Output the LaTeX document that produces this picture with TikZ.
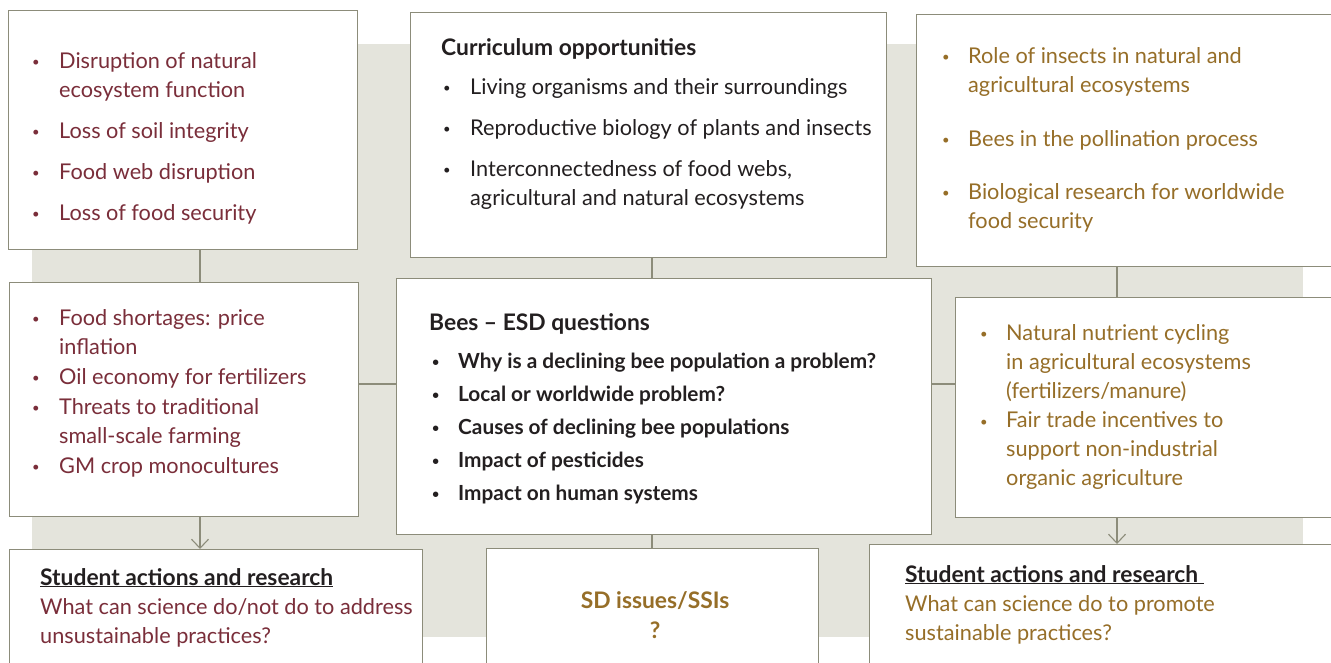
\documentclass[tikz,border=0pt]{standalone}
\usepackage{fontspec,graphicx,array}
\setmainfont{Lato}
\usetikzlibrary{arrows.meta}
\definecolor{edge}{RGB}{140,140,122}
\definecolor{band}{RGB}{228,228,220}
\definecolor{wine}{RGB}{122,46,58}
\definecolor{ochre}{RGB}{150,110,40}
\definecolor{ink}{RGB}{35,31,32}
\newcommand{\bul}{\raisebox{0.1ex}{\scalebox{0.6}{\textbullet}}}

\begin{document}
\begin{tikzpicture}[x=1pt,y=-1pt,>={Straight Barb[length=9pt,width=17pt]},
  box/.style={draw=edge,fill=white,line width=1.1pt,inner sep=0,anchor=north west},
  link/.style={draw=edge,line width=1.1pt},
  txt/.style={anchor=base west,inner sep=0,font=\fontsize{21.7}{29}\selectfont},
  head/.style={txt,text=ink,font=\fontsize{22.8}{29}\selectfont\bfseries},
  qtxt/.style={anchor=base west,inner sep=0,font=\fontsize{20.8}{33}\selectfont\bfseries,text=ink}]
\useasboundingbox (0,0) rectangle (1331,662);
\fill[band] (32,44) rectangle (1303,637);
% columns of the connectors
\coordinate (lcol) at (200,0);
\coordinate (ccol) at (652,0);
\coordinate (rcol) at (1117,0);
\coordinate (mrow) at (0,384);
% boxes
\node[box,minimum width=349pt,minimum height=239pt] (tl) at (8,10) {};
\node[box,minimum width=476pt,minimum height=245pt] (tc) at (410,12) {};
\node[box,minimum width=424pt,minimum height=252pt] (tr) at (916,14) {};
\node[box,minimum width=349pt,minimum height=234pt] (ml) at (9,282) {};
\node[box,minimum width=535pt,minimum height=256pt] (mc) at (396,278) {};
\node[box,minimum width=385pt,minimum height=220pt] (mr) at (955,297) {};
\node[box,minimum width=413pt,minimum height=130pt] (bl) at (9,549) {};
\node[box,minimum width=332pt,minimum height=130pt] (bc) at (486,548) {};
\node[box,minimum width=471pt,minimum height=135pt] (br) at (869,544) {};
% connectors
\draw[link] (lcol |- tl.south) -- (lcol |- ml.north);
\draw[link] (ccol |- tc.south) -- (ccol |- mc.north);
\draw[link] (rcol |- tr.south) -- (rcol |- mr.north);
\draw[link] (mrow -| ml.east) -- (mrow -| mc.west);
\draw[link] (mrow -| mc.east) -- (mrow -| mr.west);
\draw[link,->] (lcol |- ml.south) -- (lcol |- bl.north);
\draw[link] (ccol |- mc.south) -- (ccol |- bc.north);
\draw[link,->] (rcol |- mr.south) -- (rcol |- br.north);
% texts
\node[txt,text=wine] (tlt) at (32,68) {\begin{tabular}[t]{@{}p{27pt}@{}l@{}}
\bul & Disruption of natural\\ & ecosystem function\\[12pt]
\bul & Loss of soil integrity\\[12pt]
\bul & Food web disruption\\[12pt]
\bul & Loss of food security\end{tabular}};
\node[head] (tch) at (441,55) {Curriculum opportunities};
\node[txt,text=ink] (tct) at (443,94) {\begin{tabular}[t]{@{}p{27pt}@{}l@{}}
\bul & Living organisms and their surroundings\\[12pt]
\bul & Reproductive biology of plants and insects\\[12pt]
\bul & Interconnectedness of food webs,\\ & agricultural and natural ecosystems\end{tabular}};
\node[txt,text=ochre] (trt) at (942,63) {\begin{tabular}[t]{@{}p{26pt}@{}l@{}}
\bul & Role of insects in natural and\\ & agricultural ecosystems\\[25pt]
\bul & Bees in the pollination process\\[24pt]
\bul & Biological research for worldwide\\ & food security\end{tabular}};
\node[txt,text=wine] (mlt) at (32,325) {\begin{tabular}[t]{@{}p{27pt}@{}l@{}}
\bul & Food shortages: price\\ & inflation\\[1pt]
\bul & Oil economy for fertilizers\\[1pt]
\bul & Threats to traditional\\ & small-scale farming\\[1pt]
\bul & GM crop monocultures\end{tabular}};
\node[head] (mch) at (429,330) {Bees -- ESD questions};
\node[qtxt] (mct) at (432,368) {\begin{tabular}[t]{@{}p{26pt}@{}l@{}}
\bul & Why is a declining bee population a problem?\\
\bul & Local or worldwide problem?\\
\bul & Causes of declining bee populations\\
\bul & Impact of pesticides\\
\bul & Impact on human systems\end{tabular}};
\node[txt,text=ochre] (mrt) at (980,340) {\begin{tabular}[t]{@{}p{26pt}@{}l@{}}
\bul & Natural nutrient cycling\\ & in agricultural ecosystems\\ & (fertilizers/manure)\\[0.5pt]
\bul & Fair trade incentives to\\ & support non-industrial\\ & organic agriculture\end{tabular}};
\node[head] (blh) at (40,585) {\underline{Student actions and research}};
\node[txt,text=wine,align=left] (blt) at (40,643) {What can science do/not do to address\\unsustainable practices?};
\node[head,text=ochre,anchor=base,align=center,font=\fontsize{22.8}{30}\selectfont\bfseries] (bct) at (655,638) {SD issues/SSIs\\?};
\node[head] (brh) at (905,582) {\underline{Student actions and research\ }};
\node[txt,text=ochre,align=left] (brt) at (905,640) {What can science do to promote\\sustainable practices?};
\end{tikzpicture}
\end{document}
